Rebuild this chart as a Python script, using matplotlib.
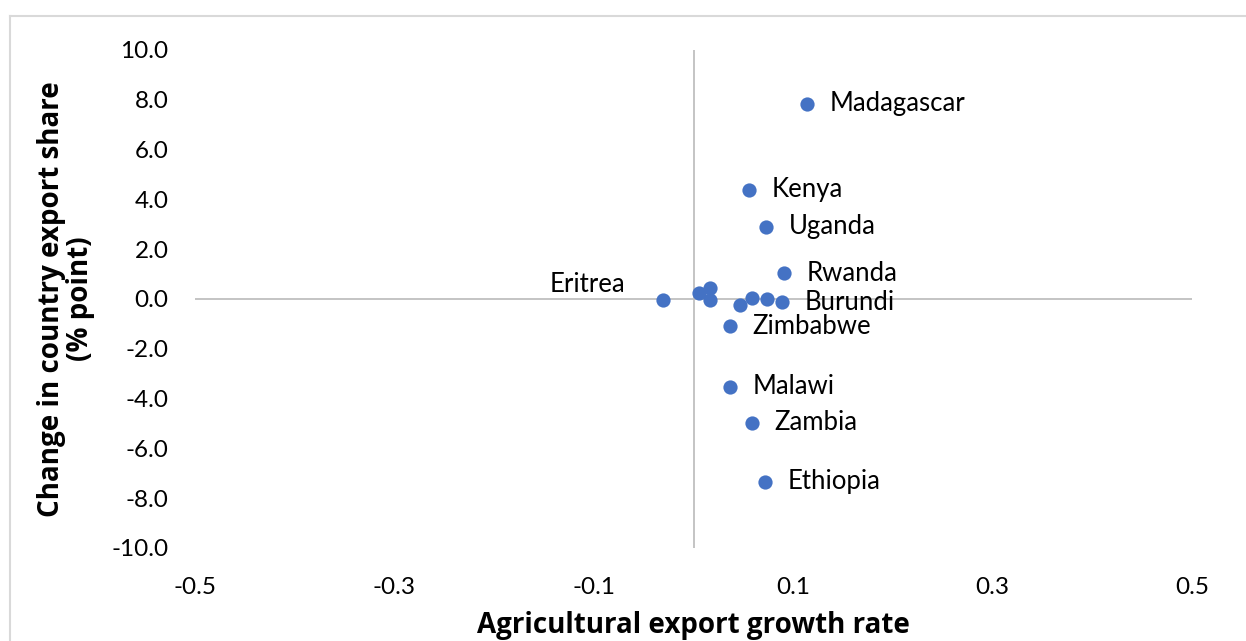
import matplotlib.pyplot as plt
from matplotlib.lines import Line2D

plt.rcParams['font.family'] = ['Lato', 'DejaVu Sans']

countries = ['Madagascar', 'Kenya', 'Uganda', 'Rwanda', 'Burundi', 'Zimbabwe',
             'Malawi', 'Zambia', 'Ethiopia', 'Eritrea', '', '', '', '', '', '']
growth = [0.114, 0.056, 0.073, 0.091, 0.089, 0.037,
          0.037, 0.059, 0.072, -0.031, 0.005, 0.017, 0.017, 0.047, 0.059, 0.074]
share_change = [7.84, 4.39, 2.90, 1.04, -0.14, -1.10,
                -3.53, -4.97, -7.34, -0.03, 0.24, 0.44, -0.03, -0.23, 0.04, 0.0]

xticks = [-0.5, -0.3, -0.1, 0.1, 0.3, 0.5]
yticks = list(range(-10, 11, 2))

fig = plt.figure(figsize=(12.46, 6.41), dpi=100)
ax = fig.add_axes([0.1565, 0.1451, 0.8002, 0.7769])

# chart frame (only top and left edges visible in the crop)
fig.add_artist(Line2D([10 / 1246, 1.0], [1 - 16 / 641, 1 - 16 / 641],
                      transform=fig.transFigure, color='#d9d9d9', lw=1.5))
fig.add_artist(Line2D([10 / 1246, 10 / 1246], [0, 1 - 16 / 641],
                      transform=fig.transFigure, color='#d9d9d9', lw=1.5))

ax.axhline(0, color='#bfbfbf', lw=1.3, zorder=1)
ax.axvline(0, color='#bfbfbf', lw=1.3, zorder=1)

ax.scatter(growth, share_change, s=105, color='#4472C4', zorder=3, linewidths=0)

for name, x, y in zip(countries, growth, share_change):
    if not name:
        continue
    if name == 'Eritrea':
        ax.annotate(name, (x, y), xytext=(-27, 11), textcoords='offset points',
                    ha='right', va='center', fontsize=18.5)
    else:
        ax.annotate(name, (x, y), xytext=(16, 0), textcoords='offset points',
                    ha='left', va='center', fontsize=18.5)

ax.set_xlim(-0.5, 0.5)
ax.set_ylim(-10, 10)
ax.set_xticks(xticks)
ax.set_xticklabels([f'{t:.1f}' for t in xticks])
ax.set_yticks(yticks)
ax.set_yticklabels([f'{t:.1f}' for t in yticks])
ax.tick_params(length=0, labelsize=17.5)
ax.tick_params(axis='x', pad=21)
ax.tick_params(axis='y', pad=19)
for s in ax.spines.values():
    s.set_visible(False)

ax.set_xlabel('Agricultural export growth rate', fontsize=20, fontweight='bold',
              family='Open Sans', labelpad=9)
ax.set_ylabel('Change in country export share\n(% point)', fontsize=20,
              fontweight='bold', family='Open Sans', labelpad=12, linespacing=1.0)

fig.savefig('out.png', dpi=100)
